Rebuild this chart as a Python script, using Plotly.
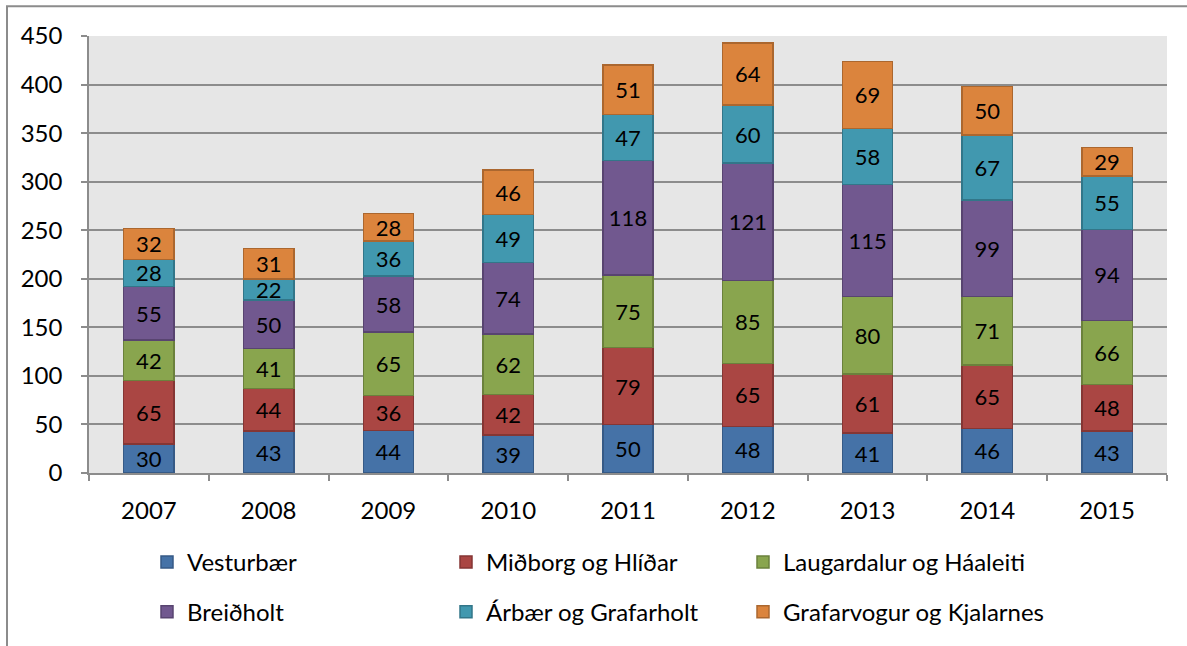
import plotly.graph_objects as go

years = ["2007", "2008", "2009", "2010", "2011", "2012", "2013", "2014", "2015"]
vesturbaer = [30, 43, 44, 39, 50, 48, 41, 46, 43]
midborg = [65, 44, 36, 42, 79, 65, 61, 65, 48]
laugardalur = [42, 41, 65, 62, 75, 85, 80, 71, 66]
breidholt = [55, 50, 58, 74, 118, 121, 115, 99, 94]
arbaer = [28, 22, 36, 49, 47, 60, 58, 67, 55]
grafarvogur = [32, 31, 28, 46, 51, 64, 69, 50, 29]

series = [
    ("Vesturbær", vesturbaer, "#4572A7", "#365A86"),
    ("Miðborg og Hlíðar", midborg, "#AA4643", "#853634"),
    ("Laugardalur og Háaleiti", laugardalur, "#89A54E", "#6B813C"),
    ("Breiðholt", breidholt, "#71588F", "#584470"),
    ("Árbær og Grafarholt", arbaer, "#4198AF", "#327689"),
    ("Grafarvogur og Kjalarnes", grafarvogur, "#DB843D", "#AB672F"),
]

FONT = "Lato"
FS = 24
LFS = 22
W, H = 1187, 646
ML, MR, MT, MB = 89, 20, 36, 170
pw, ph = W - ML - MR, H - MT - MB
def px(xp): return (xp - ML) / pw
def py(yp): return (H - MB - yp) / ph

# legend grid: 3 columns x 2 rows
col_x = [147, 446, 743]
row_y = [566, 616]

fig = go.Figure()
legends = {}
for i, (name, vals, fill, edge) in enumerate(series):
    key = "legend" if i == 0 else f"legend{i + 1}"
    legends[key] = dict(
        x=px(col_x[i % 3]), y=py(row_y[i // 3]),
        xanchor="left", yanchor="middle", orientation="h",
        font=dict(family=FONT, size=FS, color="black"),
        bgcolor="rgba(0,0,0,0)",
    )
    fig.add_trace(go.Bar(
        x=years, y=vals, name=name, legend=key,
        marker=dict(color=fill, line=dict(color=edge, width=1.5)),
        text=[str(v) for v in vals], textposition="inside",
        insidetextanchor="middle", textangle=0,
        textfont=dict(family=FONT, size=LFS, color="black"),
        constraintext="none", hoverinfo="skip",
    ))

fig.update_layout(
    width=W, height=H,
    barmode="stack", bargap=0.58,
    paper_bgcolor="white", plot_bgcolor="#E6E6E6",
    margin=dict(l=ML, r=MR, t=MT, b=MB, pad=0),
    font=dict(family=FONT, size=FS, color="black"),
    uniformtext=dict(minsize=LFS, mode="show"),
    showlegend=True,
    xaxis=dict(
        type="category", showgrid=False, tickson="boundaries",
        ticks="outside", ticklen=6, tickcolor="#8C8C8C", tickwidth=1.5,
        showline=True, linecolor="#8C8C8C", linewidth=1.5,
        tickfont=dict(family=FONT, size=FS), ticklabelstandoff=15,
    ),
    yaxis=dict(
        range=[0, 450], dtick=50, showgrid=True, gridcolor="#8C8C8C", gridwidth=1.5,
        ticks="outside", ticklen=6, tickcolor="#8C8C8C", tickwidth=1.5,
        showline=True, linecolor="#8C8C8C", linewidth=1.5, zeroline=False,
        tickfont=dict(family=FONT, size=FS), ticklabelstandoff=14,
    ),
    **legends,
)

# chart border
fig.add_shape(type="rect", xref="paper", yref="paper",
              x0=px(7), x1=px(1195), y0=py(655), y1=py(6),
              line=dict(color="#8C8C8C", width=2), fillcolor="rgba(0,0,0,0)", layer="below")

fig.write_html("out.html", config={"displayModeBar": False},
               post_script="document.body.style.margin='0';")
